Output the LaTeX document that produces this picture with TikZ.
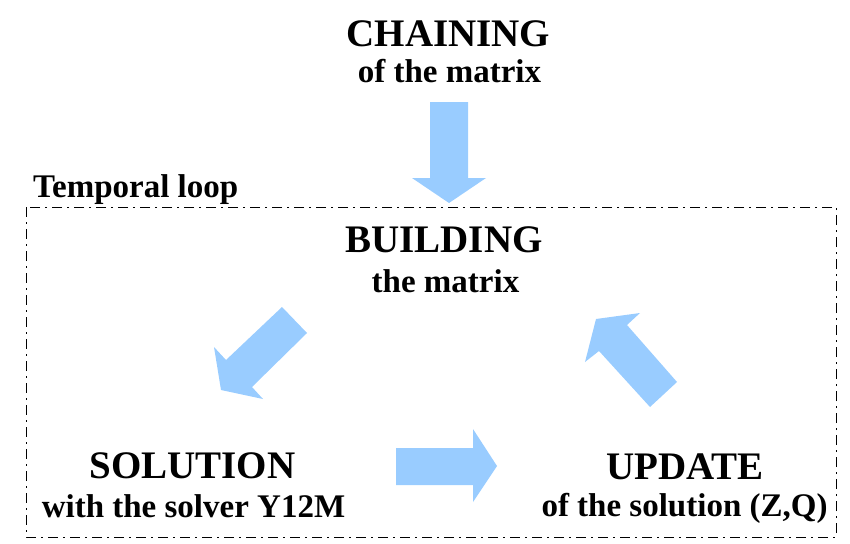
\documentclass[tikz,border=0pt]{standalone}
\usepackage{fontspec}
\setmainfont{Liberation Serif}
\definecolor{arrowblue}{RGB}{153,204,255}
\begin{document}
\begin{tikzpicture}[x=1pt,y=-1pt,
  bigtext/.style={anchor=base,inner sep=0pt,font=\fontsize{39}{40}\selectfont\bfseries},
  smalltext/.style={anchor=base,inner sep=0pt,font=\fontsize{33}{34}\selectfont\bfseries},
  blockarrow/.style={fill=arrowblue,draw=none},
  loopbox/.style={draw=black,line width=1pt,dash pattern=on 10pt off 5pt on 2pt off 5pt}]
\useasboundingbox (0,0) rectangle (850,543);
% temporal loop frame
\draw[loopbox] (26,207) rectangle (836,537);
\node[smalltext,anchor=base west] (loop) at (33,197) {Temporal loop};
% texts
\node[bigtext] (chain) at (448.5,46) {CHAINING};
\node[smalltext] (chainsub) at (449.5,82) {of the matrix};
\node[bigtext] (build) at (444,252) {BUILDING};
\node[smalltext] (buildsub) at (445.5,292) {the matrix};
\node[bigtext] (sol) at (192.5,478) {SOLUTION};
\node[smalltext] (solsub) at (193.5,517) {with the solver Y12M};
\node[bigtext] (upd) at (685,479) {UPDATE};
\node[smalltext] (updsub) at (684.5,516) {of the solution (Z,Q)};
% block arrows
\fill[blockarrow] (430,102) -- (468,102) -- (468,178) -- (486,178) -- (449,203) -- (412,178) -- (430,178) -- cycle;
\fill[blockarrow] (282,307) -- (307,333) -- (252,387) -- (263,399) -- (221,390) -- (214,347) -- (226,360) -- cycle;
\fill[blockarrow] (596,319) -- (640,313) -- (627,325) -- (677,382) -- (650,407) -- (599,351) -- (585,362) -- cycle;
\fill[blockarrow] (396,448) -- (473,448) -- (473,429) -- (497,466) -- (473,502) -- (473,485) -- (396,485) -- cycle;
\end{tikzpicture}
\end{document}
